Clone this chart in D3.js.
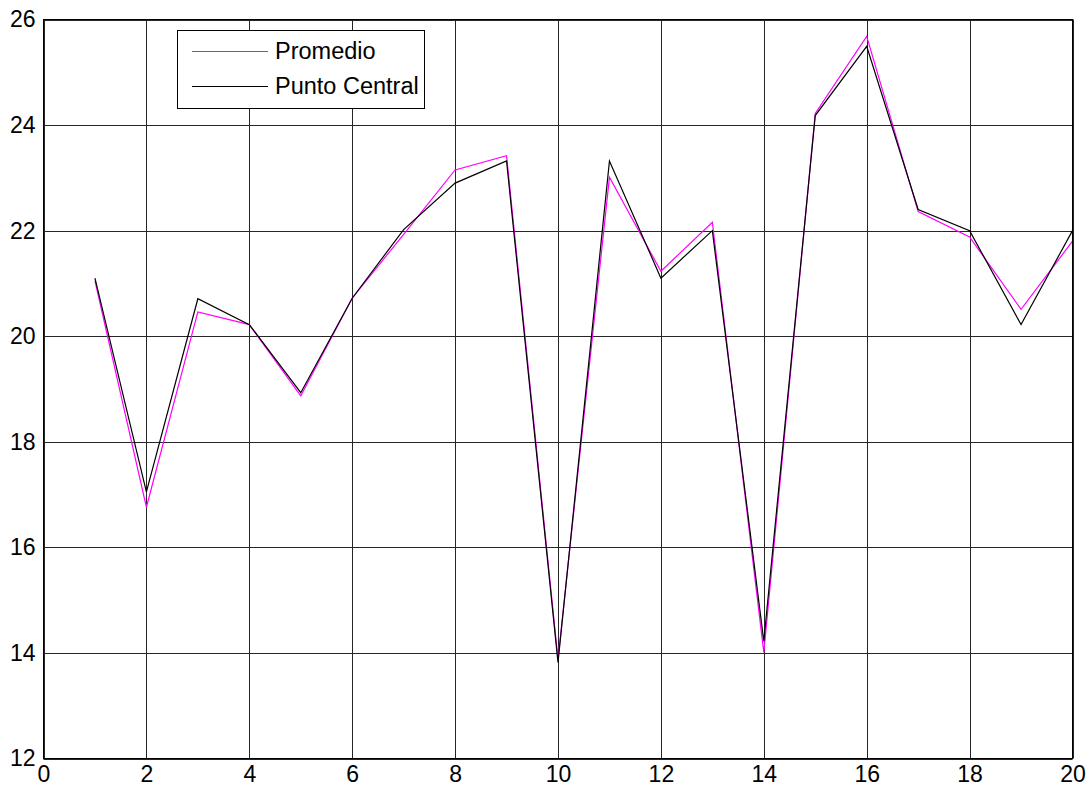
<!DOCTYPE html>
<html><head><meta charset="utf-8">
<script src="https://cdn.jsdelivr.net/npm/d3@7"></script>
<style>body{margin:0;background:#fff;} text{font-family:Arial,"Liberation Sans",sans-serif;}</style>
</head><body>
<svg id="c" width="1091" height="791"></svg>
<script>
const xs = [1,2,3,4,5,6,7,8,9,10,11,12,13,14,15,16,17,18,19,20];
const promedio = [21.05,16.76,20.46,20.22,18.87,20.72,21.93,23.15,23.42,13.88,23.01,21.23,22.16,14.01,24.22,25.68,22.36,21.88,20.51,21.8];
const central  = [21.1,17.05,20.71,20.22,18.93,20.72,22.02,22.9,23.32,13.82,23.32,21.1,22.0,14.22,24.18,25.49,22.4,22.0,20.22,22.0];
const xTicks = [0,2,4,6,8,10,12,14,16,18,20];
const yTicks = [12,14,16,18,20,22,24,26];
const seriesNames = ["Promedio","Punto Central"];
const seriesColors = ["#ff00ff","#000000"];

const svg = d3.select("#c");
const L=43.5, R=1072.5, T=19.5, B=758.5;
const x = d3.scaleLinear().domain([0,20]).range([L,R]);
const y = d3.scaleLinear().domain([12,26]).range([B,T]);

svg.append("rect").attr("width",1091).attr("height",791).attr("fill","#fff");

// grid
const g = svg.append("g");
g.selectAll(".vg").data(xTicks).join("line")
  .attr("x1",d=>Math.round(x(d))+0.5).attr("x2",d=>Math.round(x(d))+0.5)
  .attr("y1",T).attr("y2",B).attr("stroke","#262626").attr("stroke-width",1);
g.selectAll(".hg").data(yTicks).join("line")
  .attr("y1",d=>Math.round(y(d))+0.5).attr("y2",d=>Math.round(y(d))+0.5)
  .attr("x1",L).attr("x2",R).attr("stroke","#262626").attr("stroke-width",1);

// axes labels via d3 axes
const xAxis = d3.axisBottom(x).tickValues(xTicks).tickSize(0).tickPadding(7).tickFormat(d3.format("d"));
const yAxis = d3.axisLeft(y).tickValues(yTicks).tickSize(0).tickPadding(8).tickFormat(d3.format("d"));
const gx = svg.append("g").attr("transform",`translate(0,${B})`).call(xAxis);
const gy = svg.append("g").attr("transform",`translate(${L},0)`).call(yAxis);
[gx,gy].forEach(a=>{a.select(".domain").remove();
  a.selectAll("text").attr("font-size",23).attr("fill","#000").attr("font-family","Arial, 'Liberation Sans', sans-serif");});
gy.selectAll("text").attr("dy","0.32em");

// lines
const line = d3.line().x((d,i)=>x(xs[i])).y(d=>y(d));
[promedio,central].forEach((s,k)=>{
  svg.append("path").datum(s).attr("d",line).attr("fill","none")
    .attr("stroke",seriesColors[k]).attr("stroke-width",1.2).attr("stroke-linejoin","miter");
});

// frame
svg.append("rect").attr("x",L).attr("y",T).attr("width",R-L).attr("height",B-T)
  .attr("fill","none").attr("stroke","#000").attr("stroke-width",1);

// legend
const lg = svg.append("g");
lg.append("rect").attr("x",177.5).attr("y",30.5).attr("width",247).attr("height",78)
  .attr("fill","#fff").attr("stroke","#000").attr("stroke-width",1);
const ly = [51,86];
seriesNames.forEach((n,k)=>{
  lg.append("line").attr("x1",192).attr("x2",268).attr("y1",ly[k]+0.5).attr("y2",ly[k]+0.5)
    .attr("stroke",seriesColors[k]).attr("stroke-width",1.2);
  lg.append("text").attr("x",275).attr("y",ly[k]).attr("dy","0.35em")
    .attr("font-size",23.5).attr("fill","#000").text(n);
});
</script>
</body></html>
